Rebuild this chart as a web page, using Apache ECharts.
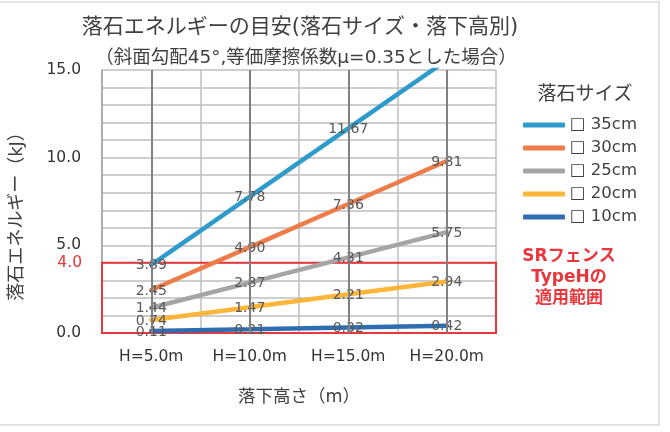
<!DOCTYPE html>
<html><head><meta charset="utf-8">
<script src="https://cdn.jsdelivr.net/npm/echarts@6/dist/echarts.min.js"></script>
<style>html,body{margin:0;padding:0;background:#fff}#c{width:670px;height:432px}</style>
</head><body><div id="c"></div>
<script>
var categories = ['H=5.0m', 'H=10.0m', 'H=15.0m', 'H=20.0m'];
var seriesNames = ['□ 35cm', '□ 30cm', '□ 25cm', '□ 20cm', '□ 10cm'];
var s35 = [3.89, 7.78, 11.67, 15.56];
var s30 = [2.45, 4.90, 7.36, 9.81];
var s25 = [1.44, 2.87, 4.31, 5.75];
var s20 = [0.74, 1.47, 2.21, 2.94];
var s10 = [0.11, 0.21, 0.32, 0.42];
var yTicks = [0, 5, 10, 15];
var limitValue = 4.0;
var colors = ['#2E9BCB', '#EE7D4A', '#A5A5A5', '#FDB53A', '#2E6DB0'];

var FONT = '"DejaVu Sans", "Noto Sans CJK JP", sans-serif';
var yMin = yTicks[0], yMax = yTicks[yTicks.length - 1];
var allSeries = [s35, s30, s25, s20, s10];

function mk(i) {
  var data = allSeries[i].map(function (v) {
    return v > yMax ? { value: v, label: { show: false } } : v;
  });
  return {
    name: seriesNames[i],
    type: 'line',
    data: data,
    symbol: 'circle',
    symbolSize: 1,
    showSymbol: true,
    itemStyle: { color: colors[i] },
    lineStyle: { color: colors[i], width: 4.5, cap: 'round' },
    label: {
      show: true, position: 'inside', color: '#595959',
      fontSize: 14, fontFamily: FONT, offset: [0, 1],
      formatter: function (p) { return p.value.toFixed(2); }
    },
    emphasis: { disabled: true },
    z: 3
  };
}
var series = [0, 1, 2, 3, 4].map(mk);
series.push({
  type: 'line', data: [], silent: true, z: 1,
  markLine: {
    silent: true, symbol: 'none',
    data: categories.map(function (c) {
      return { xAxis: c, lineStyle: { color: '#808080', width: 2, type: 'solid' }, label: { show: false } };
    }).concat([{
      yAxis: limitValue,
      lineStyle: { color: 'rgba(0,0,0,0)', width: 0 },
      label: { show: true, position: 'start', distance: 20, formatter: limitValue.toFixed(1),
               color: '#E8383D', fontSize: 15.5, fontFamily: FONT }
    }])
  },
  markArea: {
    silent: true,
    itemStyle: { color: 'rgba(0,0,0,0)', borderColor: '#E8383D', borderWidth: 2 },
    data: [[{ yAxis: yMin }, { yAxis: limitValue }]]
  }
});

var chart = echarts.init(document.getElementById('c'), null, { renderer: 'canvas' });
chart.setOption({
  animation: false,
  textStyle: { fontFamily: FONT },
  title: [
    { text: '落石エネルギーの目安(落石サイズ・落下高別)', left: 295, top: 12, textAlign: 'center',
      textStyle: { fontSize: 21, fontWeight: 'normal', color: '#404040', fontFamily: FONT } },
    { text: '（斜面勾配45°,等価摩擦係数μ=0.35とした場合）', left: 301, top: 44, textAlign: 'center',
      textStyle: { fontSize: 18.5, fontWeight: 'normal', color: '#404040', fontFamily: FONT } },
    { text: '落石サイズ', left: 580, top: 81, textAlign: 'center',
      textStyle: { fontSize: 19, fontWeight: 'normal', color: '#404040', fontFamily: FONT } }
  ],
  legend: {
    orient: 'vertical', left: 518, top: 111,
    data: seriesNames,
    icon: 'roundRect', itemWidth: 42, itemHeight: 5, itemGap: 5,
    textStyle: { fontSize: 16.5, color: '#404040', fontFamily: FONT, lineHeight: 18 },
    selectedMode: false
  },
  grid: { left: 102, right: 174, top: 70, bottom: 99 },
  xAxis: {
    type: 'category', data: categories, boundaryGap: true,
    name: '落下高さ（m）', nameLocation: 'middle', nameGap: 56,
    nameTextStyle: { fontSize: 17.5, color: '#404040', fontFamily: FONT },
    axisLine: { show: true, lineStyle: { color: '#BFBFBF', width: 1 } },
    axisTick: { show: false },
    axisLabel: { fontSize: 15.5, color: '#333', margin: 16, fontFamily: FONT },
    splitLine: { show: true, lineStyle: { color: '#BFBFBF', width: 1.5 } }
  },
  yAxis: {
    type: 'value', min: yMin, max: yMax, interval: 5,
    axisLine: { show: true, lineStyle: { color: '#A0A0A0', width: 1.5 } },
    axisTick: { show: false },
    axisLabel: { fontSize: 15.5, color: '#333', margin: 21, fontFamily: FONT,
                 formatter: function (v) { return v.toFixed(1); } },
    splitLine: { show: true, lineStyle: { color: '#BFBFBF', width: 1.5 } },
    minorTick: { show: false, splitNumber: 5 },
    minorSplitLine: { show: true, lineStyle: { color: '#BFBFBF', width: 1.5 } }
  },
  graphic: [
    { type: 'rect', shape: { x: -2, y: 2, width: 661, height: 423 },
      style: { fill: 'none', stroke: '#D9D9D9', lineWidth: 1.5 }, silent: true, z: -10 },
    { type: 'text', x: 17, y: 212, rotation: Math.PI / 2,
      style: { text: '落石エネルギー（kJ）', fontSize: 18, fill: '#404040', fontFamily: FONT,
               textAlign: 'center', textVerticalAlign: 'middle' } },
    { type: 'text', x: 569, y: 278,
      style: { text: 'SRフェンス\nTypeHの\n適用範囲', fontSize: 17, fontWeight: 'bold', fill: '#E8383D',
               fontFamily: FONT, textAlign: 'center', textVerticalAlign: 'middle', lineHeight: 21 } }
  ],
  series: series
});
</script></body></html>
